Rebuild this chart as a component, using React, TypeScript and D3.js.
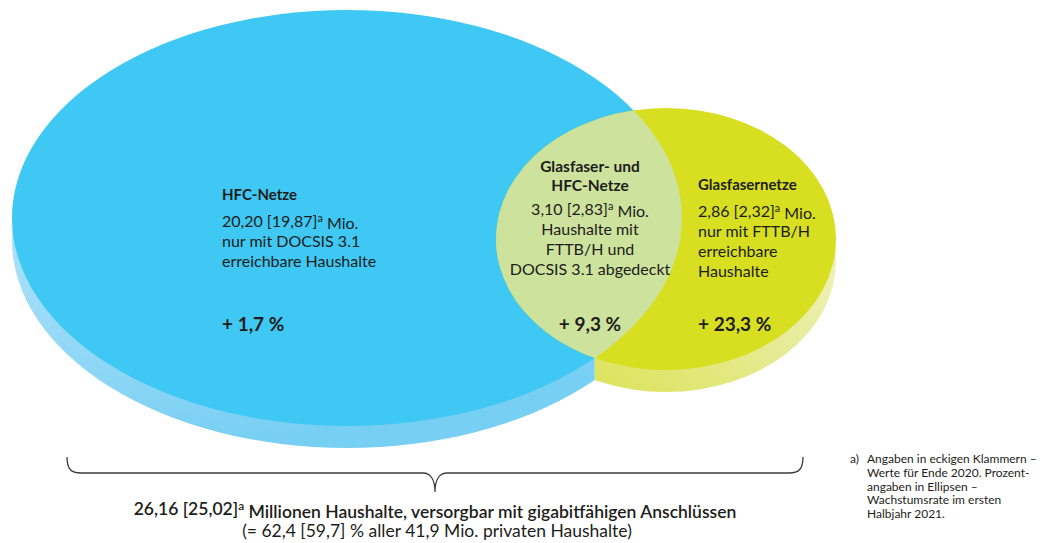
import React, { useMemo } from 'react';
import * as d3 from 'd3';

// region data (Mio. households, mid 2021 vs. end 2020, growth in % H1 2021)
const regionTitles = [['HFC-Netze'], ['Glasfaser- und', 'HFC-Netze'], ['Glasfasernetze']];
const householdsMio = [20.2, 3.1, 2.86];
const householdsMioPrev = [19.87, 2.83, 2.32];
const growthPct = [1.7, 9.3, 23.3];
const descriptions = [
  ['nur mit DOCSIS 3.1', 'erreichbare Haushalte'],
  ['Haushalte mit', 'FTTB/H und', 'DOCSIS 3.1 abgedeckt'],
  ['nur mit FTTB/H', 'erreichbare', 'Haushalte'],
];
const totalMio = [26.16, 25.02];
const totalSharePct = [62.4, 59.7];
const allHouseholdsMio = 41.9;
const footnoteLines = [
  'Angaben in eckigen Klammern –',
  'Werte für Ende 2020. Prozent-',
  'angaben in Ellipsen –',
  'Wachstumsrate im ersten',
  'Halbjahr 2021.',
];

const W = 1051;
const H = 543;
const FONT = 'Lato, "Open Sans", sans-serif';
const INK = '#1d1d1b';

const de = d3.formatLocale({ decimal: ',', thousands: '.', grouping: [3], currency: ['', ' €'] });
const f2 = de.format('.2f');
const f1 = de.format('.1f');

// ellipse geometry (layout)
const blue = { cx: 347, cy: 218, rx: 335, ry: 208, depth: 22 };
const green = { cx: 666, cy: 239, rx: 170, ry: 131, depth: 22 };

const lowerY = (e: typeof blue, x: number) => {
  const t = (x - e.cx) / e.rx;
  if (Math.abs(t) > 1) return NaN;
  return e.cy + e.ry * Math.sqrt(1 - t * t);
};

const Sup: React.FC = () => (
  <tspan fontSize="0.68em" dy="-0.45em">a</tspan>
);

const App: React.FC = () => {
  const seamX = useMemo(() => {
    const xs = d3.range(green.cx - green.rx, blue.cx + blue.rx, 0.25);
    let best = xs[0];
    let bestD = Infinity;
    xs.forEach(x => {
      const d = Math.abs(lowerY(blue, x) - lowerY(green, x));
      if (d < bestD) { bestD = d; best = x; }
    });
    return best;
  }, []);

  const bracePath = useMemo(() => {
    const x0 = 67, x1 = 803, xm = 435;
    const yTop = 457, yLine = 473, yTip = 492;
    const r = 14;
    const p = d3.path();
    p.moveTo(x0, yTop);
    p.bezierCurveTo(x0, yLine - 4, x0 + 4, yLine, x0 + r, yLine);
    p.lineTo(xm - 12, yLine);
    p.bezierCurveTo(xm - 5, yLine, xm, yLine + 6, xm, yTip);
    p.bezierCurveTo(xm, yLine + 6, xm + 5, yLine, xm + 12, yLine);
    p.lineTo(x1 - r, yLine);
    p.bezierCurveTo(x1 - 4, yLine, x1, yLine - 4, x1, yTop);
    return p.toString();
  }, []);

  const blocks = [
    { x: 222, anchor: 'start', titleY: 200, bodyY: 227, pctY: 331, titleSize: 15 },
    { x: 590, anchor: 'middle', titleY: 172, bodyY: 215, pctY: 331, titleSize: 15.5 },
    { x: 698, anchor: 'start', titleY: 190, bodyY: 217, pctY: 331, titleSize: 15 },
  ];
  const lh = 20;

  return (
    <div style={{ position: 'absolute', left: 0, top: 0 }}>
      <svg width={W} height={H} viewBox={`0 0 ${W} ${H}`} style={{ display: 'block', background: '#fff' }}>
        <defs>
          <linearGradient id="blueSide" x1="0" y1="0" x2="0.3" y2="1">
            <stop offset="0%" stopColor="#d2eefb" />
            <stop offset="60%" stopColor="#9fdcf7" />
            <stop offset="100%" stopColor="#78cff4" />
          </linearGradient>
          <linearGradient id="greenSide" x1="1" y1="0.3" x2="0.3" y2="1">
            <stop offset="0%" stopColor="#f1f4c6" />
            <stop offset="50%" stopColor="#e6eb95" />
            <stop offset="100%" stopColor="#dde35b" />
          </linearGradient>
          <clipPath id="leftOfSeam">
            <rect x={0} y={0} width={seamX} height={H} />
          </clipPath>
          <clipPath id="rightOfSeam">
            <rect x={seamX} y={0} width={W - seamX} height={H} />
          </clipPath>
          <clipPath id="blueFace">
            <ellipse cx={blue.cx} cy={blue.cy} rx={blue.rx} ry={blue.ry} />
          </clipPath>
        </defs>

        {/* extruded sides */}
        <ellipse clipPath="url(#leftOfSeam)" cx={blue.cx} cy={blue.cy + blue.depth} rx={blue.rx} ry={blue.ry} fill="url(#blueSide)" />
        <ellipse clipPath="url(#rightOfSeam)" cx={green.cx} cy={green.cy + green.depth} rx={green.rx} ry={green.ry} fill="url(#greenSide)" />

        {/* faces */}
        <ellipse cx={blue.cx} cy={blue.cy} rx={blue.rx} ry={blue.ry} fill="#3ec8f3" />
        <ellipse cx={green.cx} cy={green.cy} rx={green.rx} ry={green.ry} fill="#d7df20" />
        <ellipse clipPath="url(#blueFace)" cx={green.cx} cy={green.cy} rx={green.rx} ry={green.ry} fill="#cde29d" />

        {/* region labels */}
        {blocks.map((b, i) => (
          <g key={i} fontFamily={FONT} fill={INK} textAnchor={b.anchor}>
            {regionTitles[i].map((t, j) => (
              <text key={t} x={b.x} y={b.titleY + j * 19} fontSize={b.titleSize} fontWeight={700}>{t}</text>
            ))}
            <text x={b.x} y={b.bodyY} fontSize={16}>
              {`${f2(householdsMio[i])} [${f2(householdsMioPrev[i])}]`}
              <Sup />
              <tspan dy="0.45em">{' Mio.'}</tspan>
            </text>
            {descriptions[i].map((d, j) => (
              <text key={d} x={b.x} y={b.bodyY + (j + 1) * lh} fontSize={16}>{d}</text>
            ))}
            <text x={b.x} y={b.pctY} fontSize={19} fontWeight={700}>{`+ ${f1(growthPct[i])} %`}</text>
          </g>
        ))}

        {/* brace + total */}
        <path d={bracePath} fill="none" stroke="#3c3c3b" strokeWidth={1.3} />
        <g fontFamily={FONT} fill={INK} textAnchor="middle">
          <text x={435} y={515} fontSize={17.5} fontWeight={600}>
            {`${f2(totalMio[0])} [${f2(totalMio[1])}]`}
            <Sup />
            <tspan dy="0.45em">{' Millionen Haushalte, versorgbar mit gigabitfähigen Anschlüssen'}</tspan>
          </text>
          <text x={437} y={537} fontSize={17.5}>
            {`(= ${f1(totalSharePct[0])} [${f1(totalSharePct[1])}] % aller ${f1(allHouseholdsMio)} Mio. privaten Haushalte)`}
          </text>
        </g>

        {/* footnote */}
        <g fontFamily={FONT} fill={INK} fontSize={12}>
          <text x={850} y={463}>a)</text>
          {footnoteLines.map((l, i) => (
            <text key={l} x={867} y={463 + i * 13.8}>{l}</text>
          ))}
        </g>
      </svg>
    </div>
  );
};

export default App;
